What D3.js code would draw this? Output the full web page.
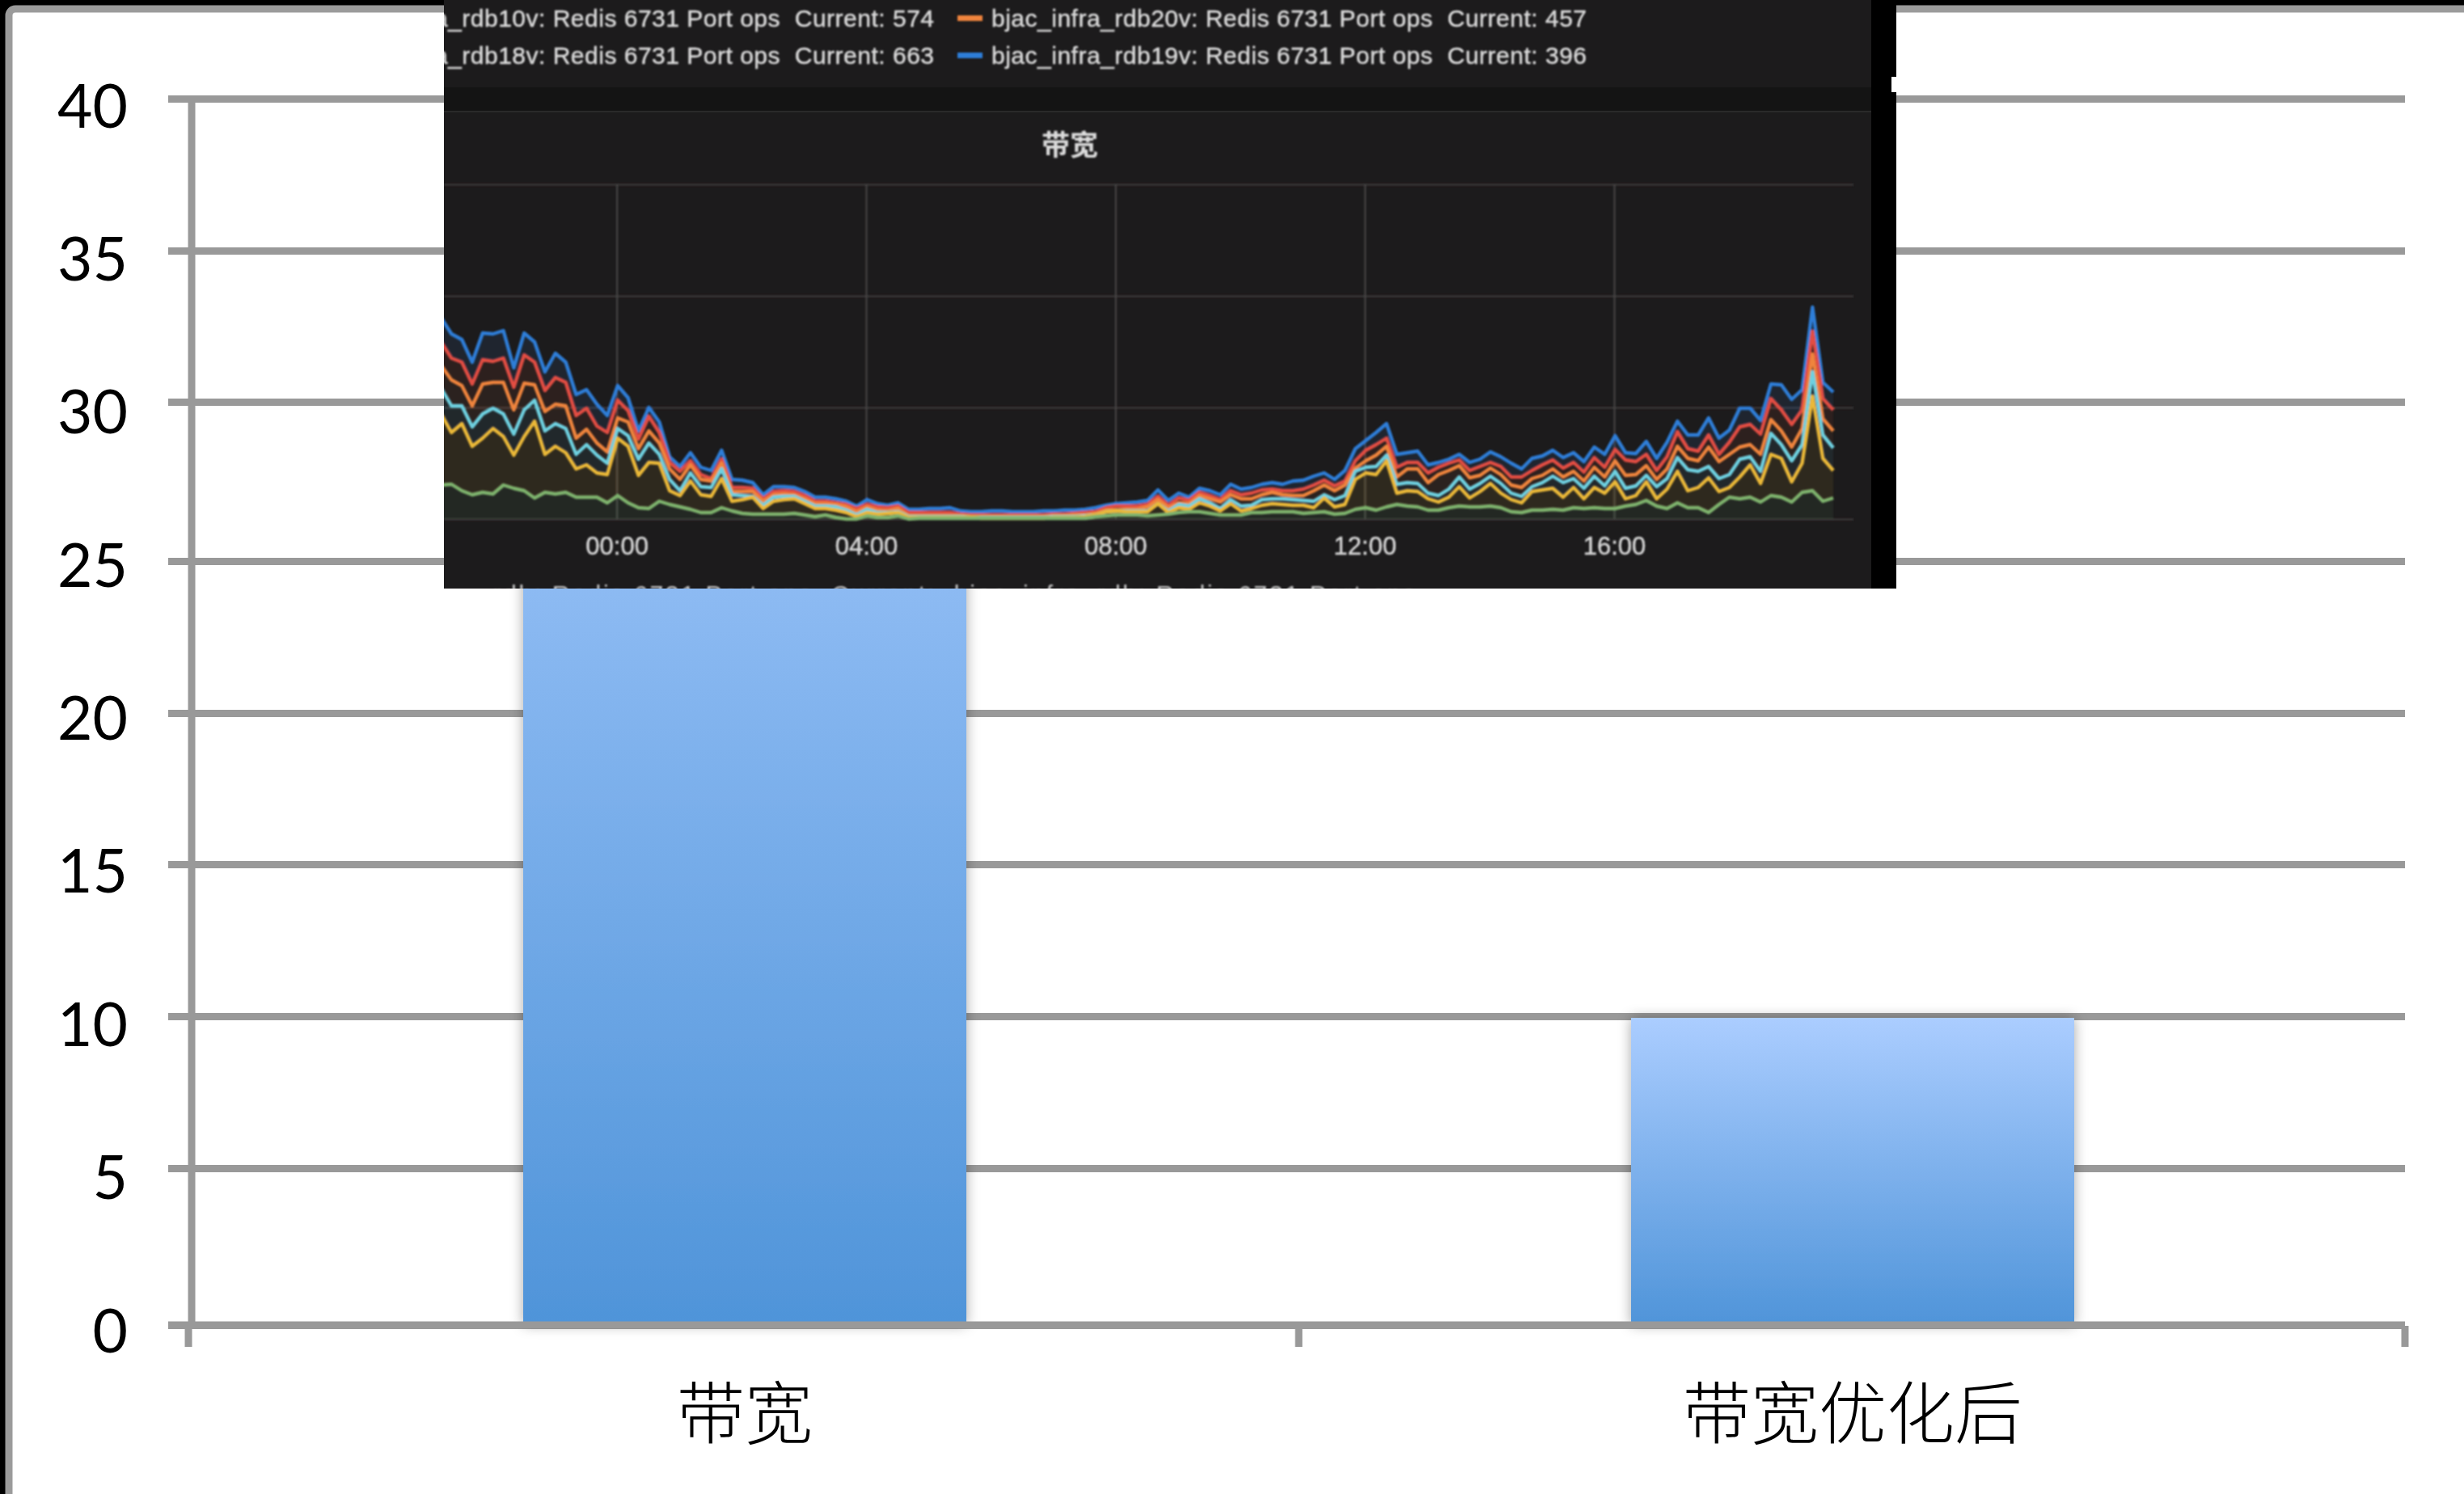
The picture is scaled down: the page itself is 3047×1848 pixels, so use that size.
<!DOCTYPE html>
<html>
<head>
<meta charset="utf-8">
<script src="https://cdn.jsdelivr.net/npm/d3@7"></script>
<style>
  body {margin:0; background:#fff;}
  svg {display:block;}
</style>
</head>
<body>
<svg></svg>
<script>
// bar chart values
var categories = ["带宽", "带宽优化后"];
var bandwidth = [36, 10];
var yTicks = [0, 5, 10, 15, 20, 25, 30, 35, 40];

// pasted dashboard panel, 10 minute samples, running from before 00:00 to about 19:30
var panelTitle = "带宽";
var hourTicks = [0, 4, 8, 12, 16];
var hourLabels = ["00:00", "04:00", "08:00", "12:00", "16:00"];
var panelGrid = [0, 138, 276, 414];
var legendRows = [
  {left:"bjac_infra_rdb10v: Redis 6731 Port ops  Current: 574", right:"bjac_infra_rdb20v: Redis 6731 Port ops  Current: 457", color:"#ef843c"},
  {left:"bjac_infra_rdb18v: Redis 6731 Port ops  Current: 663", right:"bjac_infra_rdb19v: Redis 6731 Port ops  Current: 396", color:"#2f7ed8"}
];

var rdbBlue = [249,229,222,194,230,229,233,187,230,219,182,205,194,154,160,142,128,165,150,109,138,120,77,65,82,64,60,85,49,48,45,30,40,40,39,34,27,27,25,22,16,24,19,17,20,12,12,13,13,14,10,9,9,10,10,9,9,9,10,10,11,11,12,14,17,19,20,21,23,36,23,32,27,38,35,30,43,37,39,43,45,43,47,48,53,57,49,60,87,97,107,118,80,82,84,67,70,74,80,70,74,83,77,69,62,75,78,85,76,82,71,89,80,103,82,81,96,75,95,121,104,104,125,100,110,137,137,122,167,166,148,160,262,169,157];
var rdbRed = [219,199,194,167,197,195,199,163,203,194,159,175,169,128,137,115,107,147,134,99,127,107,70,59,72,55,50,74,39,39,38,25,34,35,34,29,22,22,20,18,13,18,15,14,16,8,8,8,8,8,6,5,5,5,5,5,5,5,5,6,6,7,8,9,14,16,16,16,18,28,17,26,23,33,29,24,35,30,32,36,37,35,35,37,42,48,41,47,72,85,92,100,64,70,70,57,64,69,73,60,65,70,65,52,52,60,67,73,63,70,58,76,64,86,73,71,80,60,77,108,87,84,104,80,95,114,117,105,149,135,117,135,232,149,135];
var rdbOrange = [190,172,165,140,167,169,169,135,168,166,133,142,140,100,111,94,83,125,120,87,109,94,62,49,67,49,47,69,34,34,34,22,30,31,30,25,19,19,18,15,9,15,11,10,13,4,4,4,4,4,4,3,3,3,3,3,3,3,3,4,4,5,5,7,11,11,12,12,15,24,14,20,19,29,25,21,30,25,25,30,33,30,29,29,35,42,35,42,63,72,79,90,52,62,62,45,55,60,66,51,54,63,55,42,39,50,54,62,52,59,47,64,52,72,54,55,66,49,62,90,75,72,89,71,80,89,92,80,123,109,89,112,204,124,109];
var rdbCyan = [162,140,140,114,130,137,130,105,135,147,109,118,112,80,92,79,69,112,103,74,94,80,49,35,57,40,39,62,30,29,28,17,27,28,28,22,16,16,15,11,5,12,8,8,9,3,3,3,3,3,3,2,2,2,2,2,2,2,2,3,3,3,4,5,9,10,10,10,10,19,10,18,16,25,20,13,24,16,17,24,25,25,24,23,22,30,24,29,59,64,65,79,43,45,44,32,29,37,52,37,44,53,44,32,28,40,45,53,45,50,38,53,41,59,38,41,54,40,50,76,61,59,65,50,55,74,77,59,106,92,72,92,182,104,88];
var rdbYellow = [130,107,118,90,100,112,102,79,102,121,80,90,82,62,67,57,55,100,90,54,70,69,35,29,47,30,28,50,22,24,27,13,22,24,25,19,13,13,11,8,3,8,6,7,8,2,2,2,2,2,2,2,1,1,1,1,1,1,1,2,2,2,3,5,9,10,9,9,9,19,8,14,12,20,16,10,19,10,13,17,19,18,17,17,14,26,15,18,49,57,55,72,32,35,34,25,21,27,40,26,34,44,32,24,20,34,36,38,27,39,25,39,32,46,25,29,46,25,37,59,35,39,51,34,39,52,67,44,80,75,46,69,152,75,60];
var rdbGreen = [42,43,35,30,33,31,42,38,35,26,33,31,33,27,27,27,20,29,20,14,13,22,18,15,12,8,8,14,10,7,6,6,6,6,7,5,3,5,2,0,0,4,2,2,4,0,1,1,1,1,1,1,1,1,1,1,1,1,1,1,1,1,1,3,4,5,5,5,4,5,6,8,9,9,7,5,5,5,8,8,9,9,9,7,8,9,6,7,12,14,11,15,18,16,15,11,11,14,16,15,15,16,14,9,8,11,11,12,11,14,13,14,13,13,16,18,23,16,13,20,14,14,8,18,27,25,27,21,29,27,21,33,35,22,26];

// bottom of the stack first
var panelSeries = [
  {values:rdbGreen, color:"#7eb26d", fill:0.09},
  {values:rdbYellow, color:"#eab839", fill:0.09},
  {values:rdbCyan, color:"#6ed0e0", fill:0.08},
  {values:rdbOrange, color:"#ef843c", fill:0.07},
  {values:rdbRed, color:"#e24d42", fill:0.09},
  {values:rdbBlue, color:"#2f7ed8", fill:0.10}
];

var screen = {width:3047, height:1848};
var svg = d3.select("svg")
            .attr("width", screen.width)
            .attr("height", screen.height);
var defs = svg.append("defs");

// slide frame
svg.append("rect").attr("width", screen.width).attr("height", screen.height).attr("fill", "#000");
svg.append("rect")
   .attr("x", 11).attr("y", 11)
   .attr("width", screen.width + 50).attr("height", screen.height + 50)
   .attr("rx", 8)
   .attr("fill", "#fff")
   .attr("stroke", "#9b9b9b")
   .attr("stroke-width", 9);

// scales
var xScale = d3.scaleBand()
               .domain(categories)
               .range([236, 2976])
               .paddingInner(0.6)
               .paddingOuter(0.3);
// the gridlines in the original are not evenly spaced, the labels are
var yScale = d3.scaleLinear()
               .domain(yTicks)
               .range([1639, 1445, 1257, 1069, 882, 694, 497, 310, 122]);
var yLabelScale = d3.scaleLinear()
               .domain([0, 40])
               .range([1645, 130]);

// grid
var yGrid = svg.append("g")
   .attr("transform", "translate(208,0)")
   .call(d3.axisLeft(yScale).tickValues(yTicks).tickSize(-(2974 - 208)).tickFormat(""));
yGrid.select(".domain").remove();
yGrid.selectAll("line").attr("stroke", "#999").attr("stroke-width", 9);

// value labels
var yAxis = svg.append("g")
   .attr("transform", "translate(158,0)")
   .call(d3.axisLeft(yLabelScale).tickValues(yTicks).tickSize(0).tickPadding(0));
yAxis.select(".domain").remove();
yAxis.selectAll("text")
   .attr("dy", "0.36em")
   .attr("fill", "#000")
   .style("font-family", "Lato")
   .style("font-size", "75px");

svg.append("line")
   .attr("x1", 237).attr("x2", 237)
   .attr("y1", yScale(40)).attr("y2", yScale(0))
   .attr("stroke", "#999").attr("stroke-width", 9);

// bars
var barFill = defs.append("linearGradient")
   .attr("id", "barFill")
   .attr("x1", 0).attr("y1", 0).attr("x2", 0).attr("y2", 1);
barFill.append("stop").attr("offset", "0%").attr("stop-color", "#abcdff");
barFill.append("stop").attr("offset", "100%").attr("stop-color", "#4f94d9");

var barShadow = defs.append("filter")
   .attr("id", "barShadow")
   .attr("x", "-10%").attr("width", "120%");
barShadow.append("feDropShadow")
   .attr("dx", 0).attr("dy", 0)
   .attr("stdDeviation", 8)
   .attr("flood-color", "#000")
   .attr("flood-opacity", 0.35);

svg.append("g").selectAll("rect")
   .data(bandwidth)
   .enter()
   .append("rect")
   .attr("x", function(d, i){return xScale(categories[i])})
   .attr("y", function(d){return yScale(d) + 2})
   .attr("width", xScale.bandwidth())
   .attr("height", function(d){return yScale(0) - yScale(d) - 2})
   .attr("fill", "url(#barFill)")
   .attr("filter", "url(#barShadow)");

// category axis
var xAxis = svg.append("g")
   .attr("transform", "translate(0,1639)")
   .call(d3.axisBottom(xScale).tickSize(0).tickPadding(80));
xAxis.select(".domain").remove();
xAxis.selectAll("text")
   .attr("fill", "#000")
   .style("font-family", "'Noto Sans CJK SC'")
   .style("font-weight", 300)
   .style("font-size", "84px");

svg.append("line")
   .attr("x1", 208).attr("x2", 2974)
   .attr("y1", yScale(0)).attr("y2", yScale(0))
   .attr("stroke", "#999").attr("stroke-width", 9);

// category boundaries: both ends and half way between the bars
var midTick = (xScale(categories[0]) + xScale(categories[1]) + xScale.bandwidth()) / 2;
svg.append("g").selectAll("line")
   .data([233, midTick, 2974])
   .enter()
   .append("line")
   .attr("x1", function(d){return d})
   .attr("x2", function(d){return d})
   .attr("y1", 1640).attr("y2", 1666)
   .attr("stroke", "#999").attr("stroke-width", 9);

// pasted screenshot on top of the chart
defs.append("clipPath").attr("id", "photoClip")
    .append("rect").attr("x", 549).attr("y", 0).attr("width", 1796).attr("height", 728);
defs.append("filter").attr("id", "soften")
    .append("feGaussianBlur").attr("stdDeviation", 1.1);

var photo = svg.append("g").attr("clip-path", "url(#photoClip)");
photo.append("rect").attr("x", 549).attr("y", 0).attr("width", 1796).attr("height", 728).attr("fill", "#000");
photo.append("rect").attr("x", 549).attr("y", 0).attr("width", 1765).attr("height", 728).attr("fill", "#1c1b1c");
photo.append("rect").attr("x", 549).attr("y", 108).attr("width", 1765).attr("height", 29).attr("fill", "#141414");
photo.append("rect").attr("x", 549).attr("y", 137).attr("width", 1765).attr("height", 2).attr("fill", "#2a2a2a");
svg.append("rect").attr("x", 2339).attr("y", 95).attr("width", 6).attr("height", 19).attr("fill", "#fff");

var panel = photo.append("g").attr("filter", "url(#soften)");

var hourScale = d3.scaleLinear().domain([0, 16]).range([762.6, 1996]);
var opsScale = d3.scaleLinear().domain([0, 414]).range([642, 228]);
var sampleHour = function(i){return (i - 17) / 6 + 0.016};

var opsGrid = panel.append("g")
   .attr("transform", "translate(549,0)")
   .call(d3.axisLeft(opsScale).tickValues(panelGrid).tickSize(-(2292 - 549)).tickFormat(""));
opsGrid.select(".domain").remove();
opsGrid.selectAll("line").attr("stroke", "#403e3e").attr("stroke-width", 2);

var hourAxis = panel.append("g")
   .attr("transform", "translate(0,642)")
   .call(d3.axisBottom(hourScale)
           .tickValues(hourTicks)
           .tickSize(-414)
           .tickPadding(22)
           .tickFormat(function(d, i){return hourLabels[i]}));
hourAxis.select(".domain").remove();
hourAxis.selectAll("line").attr("stroke", "#484646").attr("stroke-width", 2);
hourAxis.selectAll("text")
   .attr("fill", "#d6d6d6")
   .attr("stroke", "#d6d6d6")
   .attr("stroke-width", 0.5)
   .style("font-family", "'Liberation Sans'")
   .style("font-size", "31px");

// fills between each line and the one under it
var bandArea = d3.area()
   .x(function(d, i){return hourScale(sampleHour(i))})
   .y0(function(d){return opsScale(d.low)})
   .y1(function(d){return opsScale(d.high)});

panelSeries.forEach(function(s, k){
  var under = k == 0 ? null : panelSeries[k - 1].values;
  var rows = s.values.map(function(v, i){return {high:v, low:under ? under[i] : 0}});
  panel.append("path")
       .attr("d", bandArea(rows))
       .attr("fill", s.color)
       .attr("fill-opacity", s.fill);
});

var seriesLine = d3.line()
   .x(function(d, i){return hourScale(sampleHour(i))})
   .y(function(d){return opsScale(d)});

panel.selectAll("path.series")
   .data(panelSeries.slice().reverse())
   .enter()
   .append("path")
   .attr("class", "series")
   .attr("d", function(s){return seriesLine(s.values)})
   .attr("fill", "none")
   .attr("stroke", function(s){return s.color})
   .attr("stroke-width", 4.4)
   .attr("stroke-linejoin", "round");

panel.append("text")
   .attr("x", 1323).attr("y", 192)
   .attr("text-anchor", "middle")
   .attr("fill", "#dcdcdc")
   .style("font-family", "'Noto Sans CJK SC'")
   .style("font-weight", 700)
   .style("font-size", "35px")
   .text(panelTitle);

// legend rows
var legend = panel.selectAll("g.legendRow")
   .data(legendRows)
   .enter()
   .append("g")
   .attr("class", "legendRow")
   .attr("transform", function(d, i){return "translate(0," + (33 + i * 46) + ")"})
   .style("font-family", "'Liberation Sans'")
   .style("font-size", "30px")
   .attr("fill", "#dadada");
legend.append("text")
   .attr("x", 419)
   .attr("textLength", 736)
   .attr("stroke", "#dadada")
   .attr("stroke-width", 0.5)
   .style("white-space", "pre")
   .text(function(d){return d.left});
legend.append("rect")
   .attr("x", 1184).attr("y", -14)
   .attr("width", 31).attr("height", 7)
   .attr("fill", function(d){return d.color});
legend.append("text")
   .attr("x", 1226)
   .attr("textLength", 736)
   .attr("stroke", "#dadada")
   .attr("stroke-width", 0.5)
   .style("white-space", "pre")
   .text(function(d){return d.right});

// third legend row, only its top shows above the crop
panel.append("text")
   .attr("x", 590).attr("y", 745)
   .attr("fill", "#c8c8c8")
   .attr("textLength", 1160)
   .style("font-family", "'Liberation Sans'")
   .style("font-size", "30px")
   .style("white-space", "pre")
   .text("_rdb: Redis 6731 Port ops  Current:  bjac_infra_rdb: Redis 6731 Port ops");
</script>
</body>
</html>
